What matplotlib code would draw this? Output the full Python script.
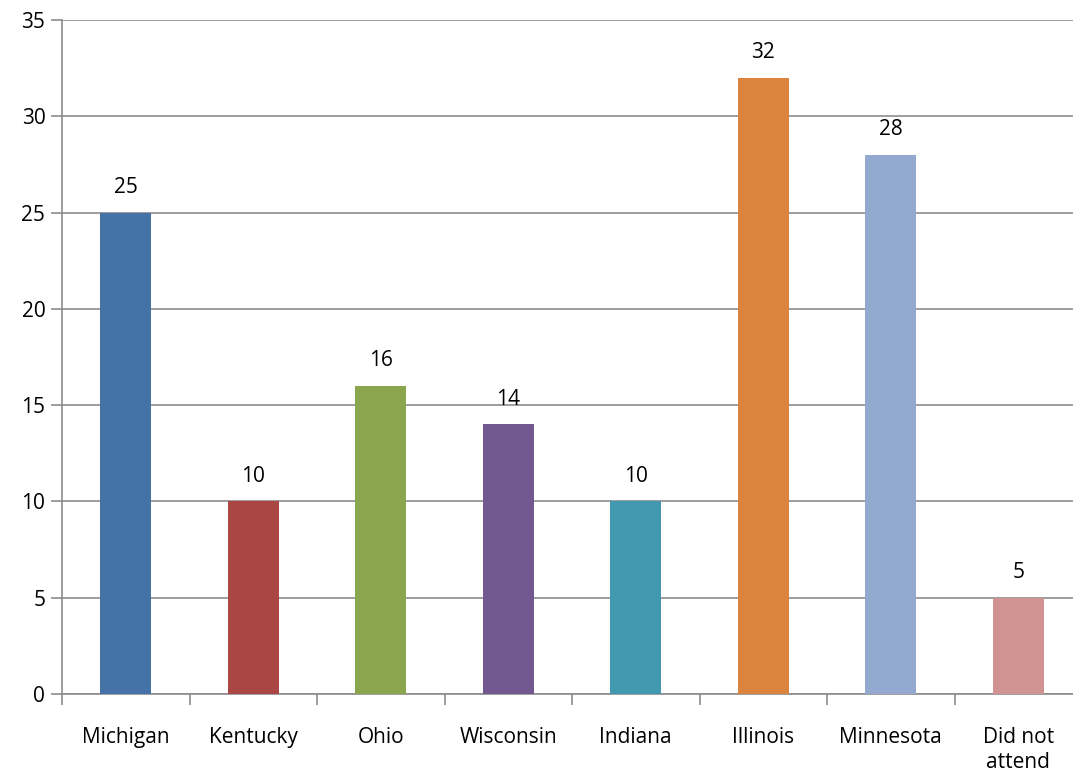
import numpy as np
import matplotlib.pyplot as plt

# %% data
states = ['Michigan', 'Kentucky', 'Ohio', 'Wisconsin', 'Indiana',
          'Illinois', 'Minnesota', 'Did not\nattend']
counts = [25, 10, 16, 14, 10, 32, 28, 5]
colors = ['#4572A7', '#AA4643', '#89A54E', '#71588F', '#4198AF',
          '#DB843D', '#93A9CF', '#D19392']

plt.rcParams['font.family'] = ['Open Sans', 'DejaVu Sans']
grey = '#8c8c8c'
fs = 15

# %% plot
fig = plt.figure(figsize=(10.73, 7.82), dpi=100)
# plot area runs a little past the right edge of the picture
ax = fig.add_axes([62 / 1073, 1 - 694 / 782, (1082 - 62) / 1073, (694 - 20) / 782])

x = np.arange(len(states))
bars = ax.bar(x, counts, width=0.4, color=colors, zorder=3)
for xi, v in zip(x, counts):
    ax.text(xi, v + 0.75, str(v), ha='center', va='bottom', fontsize=fs)

ax.set_xlim(-0.5, len(states) - 0.5)
ax.set_ylim(0, 35)
ax.set_yticks(np.arange(0, 36, 5))
ax.yaxis.grid(True, color=grey, linewidth=1.2, zorder=0)

# category boundaries get the tick marks, labels sit in the middle
ax.set_xticks(np.arange(-0.5, len(states), 1.0))
ax.set_xticklabels([])
ax.set_xticks(x, minor=True)
ax.set_xticklabels(states, minor=True, fontsize=fs, linespacing=1.2)
ax.tick_params(axis='x', which='major', length=8, color=grey, width=1.2)
ax.tick_params(axis='x', which='minor', length=0, pad=24)
ax.tick_params(axis='y', length=8, color=grey, width=1.2, labelsize=fs, pad=4)

for s in ['top', 'right']:
    ax.spines[s].set_visible(False)
for s in ['left', 'bottom']:
    ax.spines[s].set_color(grey)
    ax.spines[s].set_linewidth(1.2)

fig.savefig('out.png', dpi=100)
